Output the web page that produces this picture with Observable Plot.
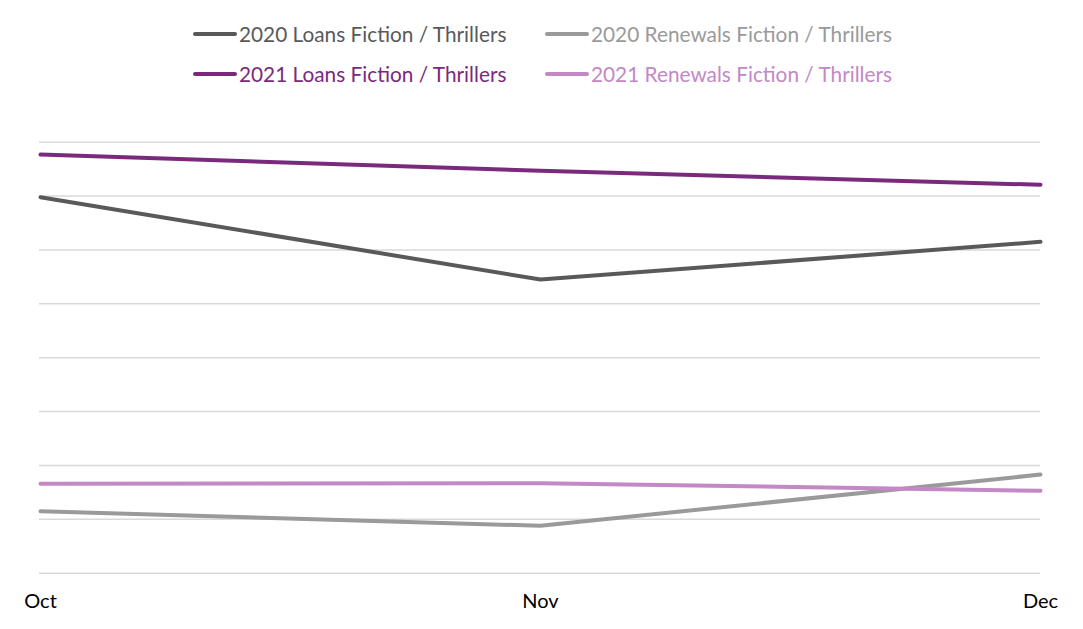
<!DOCTYPE html>
<html>
<head>
<meta charset="utf-8">
<script src="https://cdn.jsdelivr.net/npm/d3@7"></script>
<script src="https://cdn.jsdelivr.net/npm/@observablehq/plot@0.6"></script>
<style>
  html, body { margin: 0; padding: 0; background: #fff; }
  body { width: 1083px; height: 629px; overflow: hidden; font-family: Lato, "Open Sans", sans-serif; }
  #legend { position: relative; width: 1083px; height: 110px; }
  .item { position: absolute; display: flex; align-items: center; font-size: 20.8px; white-space: nowrap; }
  .sw { width: 44px; height: 4px; border-radius: 2px; margin-right: 2px; }
  #chart svg { display: block; }
</style>
</head>
<body>
<div id="legend"></div>
<div id="chart"></div>
<script>
const months = ["Oct", "Nov", "Dec"];
const seriesNames = [
  "2020 Loans Fiction / Thrillers",
  "2020 Renewals Fiction / Thrillers",
  "2021 Loans Fiction / Thrillers",
  "2021 Renewals Fiction / Thrillers"
];
const loans2020 = [6.98, 5.45, 6.15];
const renewals2020 = [1.15, 0.88, 1.83];
const loans2021 = [7.77, 7.47, 7.21];
const renewals2021 = [1.66, 1.67, 1.53];
const seriesColors = ["#595959", "#9a9a9a", "#7a2a7c", "#c388c5"];
const gridTicks = [0, 1, 2, 3, 4, 5, 6, 7, 8];

const seriesValues = [loans2020, renewals2020, loans2021, renewals2021];
const data = [];
seriesNames.forEach((name, i) => {
  months.forEach((m, j) => data.push({series: name, month: m, value: seriesValues[i][j]}));
});

// Legend (2 x 2 layout)
const legendPos = [[193, 34], [545, 34], [193, 74], [545, 74]];
const legend = document.getElementById("legend");
seriesNames.forEach((name, i) => {
  const d = document.createElement("div");
  d.className = "item";
  d.style.left = legendPos[i][0] + "px";
  d.style.top = (legendPos[i][1] - 13) + "px";
  d.style.color = seriesColors[i];
  d.innerHTML = `<span class="sw" style="background:${seriesColors[i]}"></span><span>${name}</span>`;
  legend.appendChild(d);
});

const chart = Plot.plot({
  width: 1083,
  height: 519,
  marginTop: 31.7,
  marginBottom: 56.3,
  marginLeft: 39,
  marginRight: 43,
  style: {fontFamily: "Lato, 'Open Sans', sans-serif", fontSize: "20px", color: "#000", background: "#fff"},
  x: {type: "point", domain: months, padding: 0, label: null},
  y: {domain: [0, 8], axis: null},
  color: {domain: seriesNames, range: seriesColors},
  marks: [
    Plot.ruleY(gridTicks, {stroke: "#d9d9d9", strokeWidth: 1.5}),
    Plot.axisX({tickSize: 0, tickPadding: 21, fontSize: 20, fill: "#000", label: null}),
    Plot.line(data, {x: "month", y: "value", z: "series", stroke: "series", strokeWidth: 4, strokeLinecap: "round"})
  ]
});
document.getElementById("chart").appendChild(chart);
</script>
</body>
</html>
